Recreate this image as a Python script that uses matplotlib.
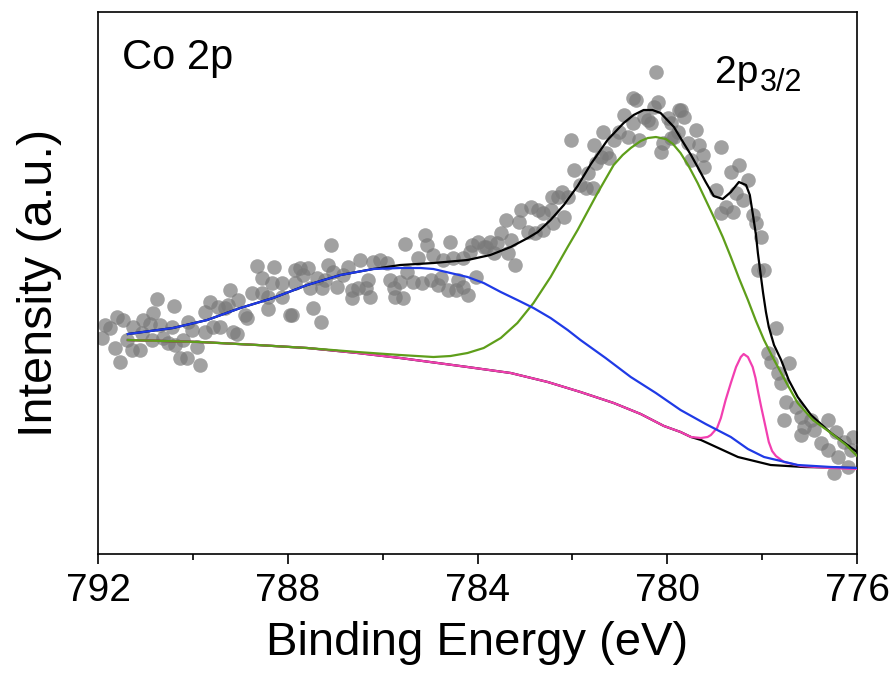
import numpy as np
import matplotlib
matplotlib.use('Agg')
import matplotlib.pyplot as plt
from matplotlib.ticker import MultipleLocator

plt.rcParams['font.family'] = ['Liberation Sans', 'DejaVu Sans']

# measured points: binding energy (eV), intensity (a.u.)
raw_be = [
    788.64, 788.28, 787.84, 788.54, 788.33, 788.12, 789.21, 788.75, 788.54, 788.41,
    788.12, 790.75, 789.04, 790.40, 789.64, 789.74, 789.47, 789.32, 789.26, 790.84,
    788.90, 788.85, 788.41, 787.95, 791.60, 791.47, 791.05, 791.85, 791.75, 791.26,
    790.90, 790.69, 790.44, 790.10, 790.02, 789.74, 789.57, 789.42, 789.15, 789.07,
    791.92, 791.39, 791.07, 790.86, 790.63, 790.52, 790.37, 790.21, 789.91, 791.64,
    791.28, 791.11, 790.27, 790.12, 791.54, 789.85,
    785.10, 787.08, 785.52, 785.06, 784.57, 784.11, 783.98, 783.83, 784.15, 785.25,
    784.93, 784.72, 784.51, 784.30, 786.47, 786.20, 786.05, 785.90, 786.72, 787.15,
    787.74, 787.57, 787.67, 787.04, 786.83, 787.38, 787.21, 786.30, 785.84, 785.63,
    785.48, 785.35, 785.16, 784.99, 784.78, 784.42, 784.04, 787.84, 787.53, 787.27,
    786.96, 786.64, 786.53, 786.36, 785.77, 784.84, 784.63, 784.46, 784.30, 784.21,
    786.64, 786.26, 785.73, 785.58, 787.46, 787.91, 787.31,
    780.24, 780.73, 780.66, 780.20, 780.29, 779.76, 780.92, 780.50, 780.41, 780.35,
    779.99, 780.73, 781.36, 781.02, 780.83, 781.13, 782.04, 780.60, 779.93, 779.78,
    780.10, 780.14, 781.55, 781.30, 781.40, 781.23, 781.51, 781.97, 781.68, 781.83,
    781.72, 781.57, 782.21, 782.31, 782.42, 782.10, 782.88, 782.73, 782.61, 782.46,
    783.09, 782.18, 783.41, 783.13, 782.40, 782.94, 782.78, 782.61, 783.51, 783.73,
    783.30, 783.87, 783.58, 783.66, 783.35, 783.20,
    779.72, 779.65, 779.40, 779.93, 779.86, 779.57, 779.33, 778.87, 779.25, 779.50,
    779.23, 778.49, 778.66, 778.30, 778.98, 778.55, 778.41, 778.77, 778.87, 778.62,
    778.20, 778.13, 778.03, 778.09, 777.96, 777.71, 777.88, 777.82, 777.44, 777.67,
    777.60, 777.50, 777.29, 777.54, 777.18, 776.97, 776.61, 777.12, 776.91, 777.18,
    776.44, 776.76, 776.61, 776.27, 776.08, 776.40, 776.13, 776.49, 776.19,
]
raw_int = [
    284, 283, 280, 272, 267, 267, 260, 257, 257, 253,
    253, 251, 250, 244, 248, 238, 243, 242, 245, 237,
    235, 232, 241, 235, 233, 230, 230, 225, 222, 223,
    226, 225, 223, 228, 220, 218, 223, 223, 218, 216,
    212, 210, 217, 210, 212, 207, 205, 210, 203, 202,
    200, 200, 192, 192, 188, 185,
    315, 305, 306, 305, 308, 305, 308, 303, 298, 292,
    295, 290, 292, 292, 290, 288, 290, 287, 283, 285,
    282, 282, 275, 278, 275, 272, 270, 270, 270, 268,
    278, 268, 267, 270, 272, 270, 273, 267, 262, 262,
    263, 260, 262, 262, 262, 265, 260, 260, 263, 255,
    252, 253, 253, 252, 242, 235, 228,
    478, 452, 450, 448, 443, 440, 435, 433, 430, 427,
    432, 427, 418, 418, 413, 410, 410, 410, 412, 418,
    407, 398, 405, 397, 393, 392, 387, 380, 377, 365,
    362, 362, 358, 353, 353, 353, 343, 340, 337, 340,
    340, 333, 330, 328, 327, 318, 317, 320, 317, 308,
    310, 303, 307, 297, 297, 285,
    440, 433, 420, 427, 413, 407, 405, 403, 395, 390,
    383, 385, 378, 370, 360, 357, 350, 343, 337, 338,
    335, 327, 313, 280, 280, 222, 197, 188, 187, 177,
    167, 148, 143, 130, 133, 130, 130, 123, 120, 115,
    118, 107, 100, 108, 113, 93, 100, 77, 83,
]

# cumulative fit envelope
fit_be = [791.37, 790.42, 789.70, 789.00, 788.31, 787.59, 786.89, 786.20, 785.63, 784.93,
          784.21, 783.73, 783.30, 782.94, 782.73, 782.46, 782.18, 781.89, 781.61, 781.26,
          780.92, 780.71, 780.50, 780.31, 780.14, 779.86, 779.72, 779.50, 779.36, 779.19,
          779.02, 778.83, 778.66, 778.49, 778.34, 778.26, 778.20, 778.13, 778.09, 778.03,
          777.98, 777.92, 777.86, 777.75, 777.60, 777.44, 777.25, 776.97, 776.55, 776.00]
fit_int = [216, 222, 230, 242, 252, 265, 275, 281, 285, 287,
           290, 295, 303, 312, 318, 330, 345, 364, 386, 410,
           427, 435, 440, 440, 437, 423, 412, 395, 383, 368,
           354, 351, 358, 368, 365, 355, 337, 315, 297, 275,
           257, 238, 223, 205, 190, 170, 153, 135, 117, 98]

# background
bg_be = [791.37, 789.85, 788.64, 787.59, 786.53, 785.63, 784.21, 783.30, 782.52, 781.83,
         781.13, 780.56, 780.07, 779.72, 779.50, 779.29, 778.51, 777.82, 777.12, 776.00]
bg_int = [210, 208, 205, 202, 197, 192, 183, 177, 168, 158,
          147, 136, 124, 118, 113, 110, 93, 85, 83, 82]

# satellite peak (blue)
sat_be = [791.37, 790.42, 789.70, 789.00, 788.31, 787.59, 786.89, 786.20, 785.63, 785.20,
          784.93, 784.57, 784.21, 783.87, 783.51, 783.16, 782.82, 782.46, 782.10, 781.83,
          781.30, 780.77, 780.24, 779.72, 779.19, 778.66, 778.30, 777.96, 777.25, 776.55,
          776.00]
sat_int = [216, 222, 230, 242, 252, 265, 275, 281, 282, 282,
           281, 277, 273, 267, 258, 250, 242, 232, 220, 210,
           192, 173, 157, 140, 126, 113, 101, 93, 85, 83,
           82]

# main Co2+ peak (green)
main_be = [791.37, 789.85, 788.64, 787.59, 786.53, 785.63, 784.93, 784.57, 784.21, 783.87,
           783.51, 783.16, 782.82, 782.46, 782.10, 781.89, 781.47, 781.13, 780.94, 780.77,
           780.56, 780.41, 780.24, 780.03, 779.88, 779.72, 779.55, 779.36, 779.19, 779.02,
           778.83, 778.66, 778.49, 778.30, 778.13, 777.96, 777.77, 777.60, 777.44, 777.25,
           776.93, 776.55, 776.23, 776.00]
main_int = [210, 208, 205, 202, 198, 195, 193, 194, 197, 202,
            212, 227, 247, 273, 303, 320, 357, 385, 395, 402,
            409, 412, 413, 411, 406, 397, 384, 367, 350, 333,
            313, 293, 272, 250, 229, 210, 192, 177, 163, 147,
            130, 117, 105, 94]

# narrow peak (pink)
low_be = [791.37, 789.85, 788.64, 787.59, 786.53, 785.63, 784.21, 783.30, 782.52, 781.83,
          781.13, 780.56, 780.07, 779.72, 779.50, 779.29, 779.15, 779.08, 778.95, 778.87,
          778.77, 778.66, 778.55, 778.45, 778.39, 778.30, 778.20, 778.14, 778.08, 778.02,
          777.96, 777.86, 777.79, 777.71, 777.54, 777.18, 776.55, 776.00]
low_int = [210, 208, 205, 202, 197, 192, 183, 177, 168, 158,
           147, 136, 124, 118, 113, 112, 113, 115, 122, 132,
           150, 167, 183, 193, 196, 193, 183, 172, 157, 143,
           130, 108, 99, 94, 88, 84, 82, 81]

fig = plt.figure(figsize=(8.96, 6.87), dpi=100)
ax = fig.add_axes([0.1094, 0.1936, 0.8471, 0.7889])

ax.scatter(raw_be, raw_int, s=110, color='#7a7a7a', alpha=0.7, linewidths=0, zorder=1)
ax.plot(fit_be, fit_int, color='black', lw=1.6, zorder=2)
ax.plot(bg_be, bg_int, color='black', lw=1.6, zorder=2)
ax.plot(low_be, low_int, color='#f23fb0', lw=1.6, zorder=3)
ax.plot(main_be, main_int, color='#5e9e1a', lw=1.6, zorder=4)
ax.plot(sat_be, sat_int, color='#1f3ae6', lw=1.6, zorder=5)

ax.set_xlim(792, 776)
ax.set_ylim(-4, 538)
ax.xaxis.set_major_locator(MultipleLocator(4))
ax.xaxis.set_minor_locator(MultipleLocator(2))
ax.set_yticks([])
ax.tick_params(axis='x', which='major', length=7, width=1.2, labelsize=28, pad=7)
ax.tick_params(axis='x', which='minor', length=4, width=1.2)
for sp in ax.spines.values():
    sp.set_linewidth(1.2)

ax.set_xlabel('Binding Energy (eV)', fontsize=34, labelpad=8)
ax.set_ylabel('Intensity (a.u.)', fontsize=35, labelpad=26)

ax.text(0.032, 0.895, 'Co 2p', transform=ax.transAxes, fontsize=30, va='baseline')
t = ax.text(0.813, 0.869, '2p', transform=ax.transAxes, fontsize=28, va='baseline')
ax.annotate('3/2', xy=(1, 0), xycoords=t, xytext=(1, 0), textcoords='offset points',
            fontsize=22, va='baseline', ha='left')

fig.savefig('out.png', dpi=100)
